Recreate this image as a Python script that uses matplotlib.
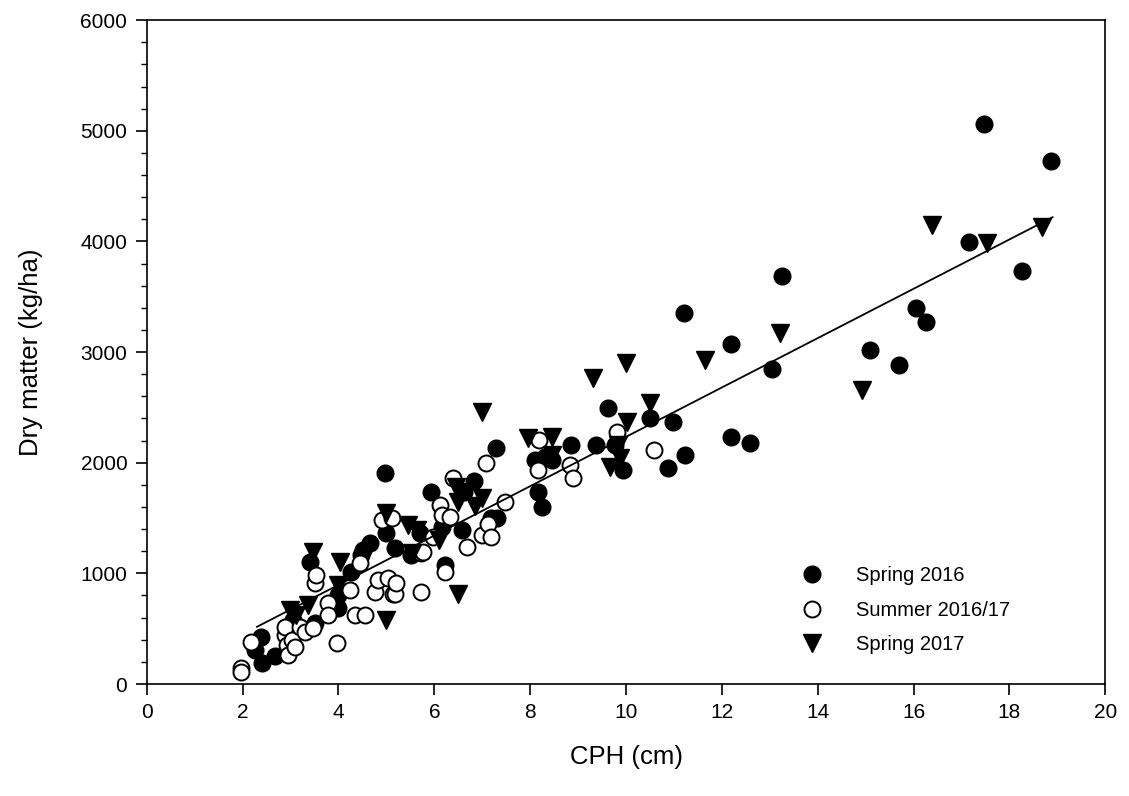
import matplotlib
matplotlib.use("Agg")
import matplotlib.pyplot as plt
import numpy as np

plt.rcParams['font.family'] = ['Liberation Sans', 'DejaVu Sans']

# Spring 2016 (filled circles)
sp16_x = [2.25, 2.39, 2.40, 2.68, 3.06, 3.12, 3.40, 3.51, 3.99, 3.99, 4.27, 4.48, 4.52, 4.66,
          4.97, 5.00, 5.18, 5.52, 5.70, 5.93, 6.15, 6.22, 6.57, 6.61, 6.83, 7.19, 7.29, 7.30,
          8.10, 8.17, 8.24, 8.31, 8.45, 8.86, 9.38, 9.63, 9.77, 9.94, 10.5, 10.88, 10.99, 11.2,
          11.23, 12.19, 12.19, 12.59, 13.04, 13.25, 15.1, 15.69, 16.05, 16.25, 17.16, 17.46,
          18.26, 18.86]
sp16_y = [310, 427, 190, 250, 580, 520, 1105, 548, 804, 683, 1015, 1166, 1211, 1271,
          1911, 1361, 1226, 1166, 1364, 1738, 1422, 1075, 1392, 1738, 1837, 1497, 2130, 1497,
          2024, 1738, 1603, 2054, 2024, 2160, 2160, 2491, 2160, 1934, 2401, 1949, 2370, 3355,
          2069, 3072, 2235, 2181, 2843, 3690, 3018, 2883, 3395, 3274, 3997, 5060,
          3732, 4729]

# Summer 2016/17 (open circles)
su_x = [1.97, 1.97, 2.18, 2.88, 2.88, 2.92, 2.95, 3.02, 3.09, 3.19, 3.30, 3.47, 3.51, 3.54,
        3.79, 3.79, 3.96, 4.24, 4.34, 4.55, 4.45, 4.76, 4.83, 4.90, 5.04, 5.11, 5.14, 5.18,
        5.21, 5.73, 5.73, 5.77, 5.98, 6.12, 6.15, 6.22, 6.33, 6.40, 6.68, 6.99, 7.08, 7.12,
        7.19, 7.47, 8.17, 8.19, 8.83, 8.90, 9.82, 10.59]
su_y = [142, 111, 382, 443, 518, 352, 262, 398, 337, 518, 473, 503, 910, 985,
        729, 623, 370, 849, 623, 623, 1090, 834, 940, 1482, 955, 1497, 817, 817,
        910, 1180, 834, 1196, 1331, 1617, 1527, 1015, 1512, 1859, 1241, 1346, 2000, 1450,
        1331, 1648, 1934, 2205, 1979, 1859, 2281, 2115]

# Spring 2017 (filled triangles)
sp17_x = [2.98, 3.12, 3.37, 3.47, 3.99, 4.03, 4.99, 5.00, 5.46, 5.53, 5.63, 6.09, 6.50,
          6.46, 6.57, 6.50, 6.85, 7.00, 7.00, 7.96, 8.45, 8.45, 9.32, 9.66, 9.84, 9.87,
          10.0, 10.01, 10.5, 11.65, 13.21, 14.92, 16.38, 17.53, 18.68]
sp17_y = [669, 623, 714, 1196, 895, 1105, 578, 1548, 1437, 1180, 1392, 1301, 817,
          1783, 1738, 1648, 1610, 1680, 2461, 2220, 2235, 2070, 2762, 1964, 2160, 2040,
          2900, 2370, 2536, 2928, 3169, 2657, 4148, 3982, 4133]

# regression line
fit_slope = 223.0
fit_intercept = 4.0
fit_x = [2.3, 18.9]

fig = plt.figure(figsize=(11.29, 7.96), dpi=100)
ax = fig.add_axes([0.130, 0.1407, 0.849, 0.834])

ax.plot(sp16_x, sp16_y, 'o', color='black', markersize=12, linestyle='none', label='Spring 2016')
ax.plot(su_x, su_y, 'o', markerfacecolor='white', markeredgecolor='black', markeredgewidth=1.4,
        markersize=11.5, linestyle='none', label='Summer 2016/17')
ax.plot(sp17_x, sp17_y, 'v', color='black', markersize=13.5, linestyle='none', label='Spring 2017')

fx = np.array(fit_x)
ax.plot(fx, fit_intercept + fit_slope * fx, color='black', linewidth=1.3)

ax.set_xlim(0, 20)
ax.set_ylim(0, 6000)
ax.set_xticks(np.arange(0, 21, 2))
ax.set_yticks(np.arange(0, 6001, 1000))
ax.set_yticks(np.arange(0, 6001, 200), minor=True)
ax.tick_params(axis='both', which='major', direction='out', length=8, width=1.2, labelsize=15, pad=6)
ax.tick_params(axis='y', which='minor', direction='out', length=4.5, width=1.0)
for s in ax.spines.values():
    s.set_linewidth(1.2)

ax.set_xlabel('CPH (cm)', fontsize=18.5, labelpad=16)
ax.set_ylabel('Dry matter (kg/ha)', fontsize=18.5, labelpad=27)

ax.legend(loc='upper left', bbox_to_anchor=(0.665, 0.19), frameon=False, fontsize=14.5,
          handletextpad=1.15, labelspacing=0.78, borderaxespad=0)

fig.savefig('out.png', dpi=100)
